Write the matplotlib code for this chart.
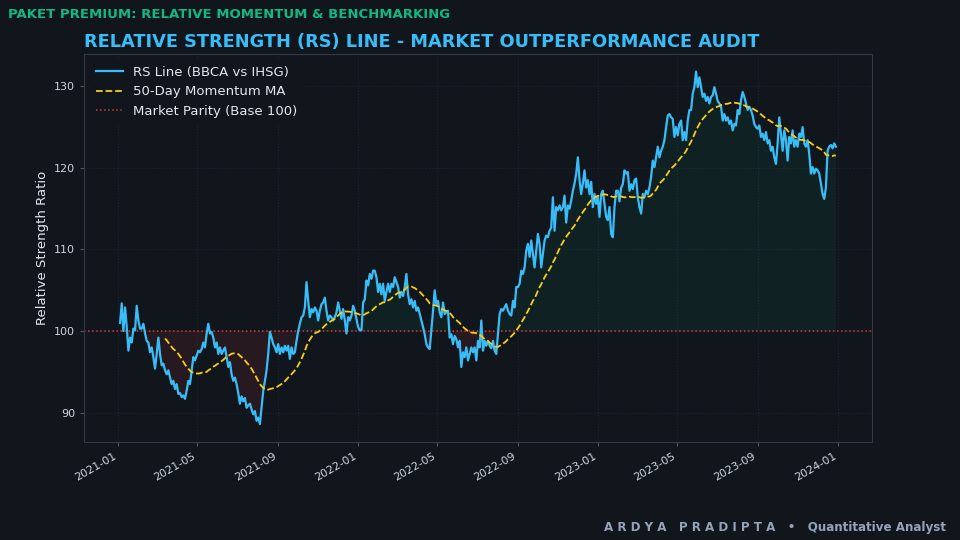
import matplotlib
matplotlib.use("Agg")
import matplotlib.pyplot as plt
import matplotlib.dates as mdates
import numpy as np
import pandas as pd

# ---- data (RS line, evenly spaced samples) ----
start_date = "2021-01-04"
end_date = "2023-12-29"

rs_seg_a = [101.0, 103.4, 100.0, 102.9, 100.5, 97.6, 99.2, 98.6, 100.3, 100.1,
            103.1, 101.3, 100.3, 100.3, 100.9, 99.7, 98.8, 98.6, 97.4, 98.0,
            96.8, 95.4, 97.2, 99.2, 97.2, 95.8, 96.0, 95.2, 94.7, 95.2,
            94.3, 93.5, 93.9, 92.9, 93.5, 92.3, 92.4, 91.9, 92.1, 91.7,
            92.7, 93.9, 93.5, 95.2, 96.8, 96.4, 97.0, 97.6, 97.4, 97.8,
            98.6, 98.0, 99.7, 100.9, 99.7, 99.9, 99.2, 98.0, 98.6, 97.2,
            98.0, 97.2, 97.6, 98.0, 96.8, 95.6, 96.2, 94.7, 93.9, 94.3,
            93.5, 92.4, 91.1]
rs_seg_b = [92.0, 91.4, 91.8, 90.6, 90.9, 91.1, 90.4, 89.8, 90.2, 89.0,
            89.4, 88.6, 90.6, 92.7, 93.9, 95.2, 97.2, 99.9, 99.2, 98.4,
            98.0, 97.4, 98.4, 97.2, 98.0, 97.4, 98.2, 97.6, 98.2, 96.6,
            98.0, 97.2, 97.4, 98.8, 100.0, 100.9, 101.7, 101.9, 102.9, 106.0,
            103.7, 101.7, 102.7, 102.3, 102.9, 102.5, 101.3, 102.5, 103.3, 103.5,
            104.1, 102.5, 101.3, 101.9, 101.7, 101.3, 101.7, 102.3, 103.5, 102.5,
            101.5, 102.7, 101.3, 99.7, 101.7, 101.3, 101.9, 103.1, 102.5, 101.5,
            100.5, 100.1, 100.1, 103.5, 103.9]
rs_seg_c = [106.2, 105.6, 107.0, 106.4, 107.4, 107.4, 106.6, 104.8, 105.8, 104.5,
            105.8, 103.7, 104.8, 105.8, 104.8, 105.8, 105.4, 106.6, 106.0, 105.4,
            104.1, 104.8, 104.3, 105.4, 107.0, 104.5, 103.3, 103.9, 102.9, 103.7,
            102.5, 102.9, 102.1, 101.3, 100.5, 99.6, 98.4, 98.0, 97.8, 100.1,
            102.5, 105.0, 103.3, 103.7, 102.3, 101.7, 103.5, 102.1, 102.3, 102.5,
            99.2, 99.6, 98.4, 99.4, 99.0, 98.0, 98.8, 95.6, 97.4, 96.8,
            98.0, 96.4, 97.2, 98.0, 97.4, 98.0, 96.4, 98.8, 98.0, 101.3,
            97.6, 98.8, 98.2, 98.8, 98.2]
rs_seg_d = [97.9, 98.8, 97.6, 97.2, 99.7, 102.1, 102.7, 102.5, 102.9, 103.3,
            102.5, 102.1, 101.9, 103.7, 102.9, 105.4, 105.4, 105.8, 107.4, 107.0,
            107.8, 109.9, 110.7, 109.1, 111.1, 109.5, 107.8, 109.9, 111.9, 110.7,
            107.8, 109.5, 111.1, 111.7, 111.5, 112.3, 112.7, 116.4, 112.3, 115.2,
            114.8, 115.4, 114.8, 115.2, 116.6, 113.3, 115.4, 115.0, 116.0, 117.2,
            118.1, 119.3, 121.3, 118.5, 116.8, 118.1, 119.7, 117.6, 118.5, 116.8,
            118.3, 115.2, 116.8, 115.6, 116.4, 114.0, 116.8, 117.2, 115.6, 114.0,
            113.6, 115.2, 111.9, 111.5, 115.2, 117.2]
rs_seg_e = [117.2, 115.9, 117.6, 118.0, 119.7, 119.3, 119.5, 117.2, 118.0, 117.4,
            118.5, 118.7, 116.4, 115.2, 114.4, 116.8, 116.4, 117.2, 116.8, 117.6,
            118.9, 120.9, 120.1, 121.3, 122.6, 121.3, 122.1, 122.6, 123.4]
rs_seg_f = [125.0, 126.4, 126.6, 126.2, 126.0, 123.8, 125.0, 124.0, 125.4, 125.8,
            123.4, 124.4, 123.4, 125.8, 127.1, 127.1, 129.1, 129.9, 131.8, 129.9,
            131.1, 129.9, 128.7, 129.1, 128.2, 128.7, 127.9, 128.7, 128.9, 129.9,
            129.1, 128.2, 127.9, 127.5, 125.8, 126.6, 125.8, 126.2, 125.4, 125.8,
            124.6, 125.4, 125.2, 127.1, 126.6, 128.3, 129.3, 128.7, 127.9, 127.1,
            127.5, 127.1, 126.4, 125.4, 125.0, 124.8, 125.2, 123.8, 124.2, 123.4,
            124.4, 123.0, 123.4, 122.1, 122.6, 121.3, 120.5, 123.0, 126.2, 124.2,
            122.1, 124.6, 123.4, 120.9, 123.8, 123.0, 124.6, 122.6, 123.4, 122.6,
            124.2, 123.8, 125.0, 123.0, 122.6, 123.4, 121.7, 119.3, 120.1, 119.3,
            119.9, 119.7, 119.3, 118.1, 116.8, 116.2, 117.6, 122.1, 122.6, 122.8,
            122.4, 123.0, 122.6]

base_level = 100
ma_window = 28  # samples ~ 50 trading days

series_labels = ["RS Line (BBCA vs IHSG)", "50-Day Momentum MA", "Market Parity (Base 100)"]

rs_values = np.array(rs_seg_a + rs_seg_b + rs_seg_c + rs_seg_d + rs_seg_e + rs_seg_f)
dates = pd.date_range(start_date, end_date, periods=len(rs_values))
rs = pd.Series(rs_values, index=dates)
ma = rs.rolling(ma_window, min_periods=ma_window).mean()

# ---- style ----
BG = "#11151c"
plt.rcParams["font.family"] = ["DejaVu Sans"]

fig = plt.figure(figsize=(9.6, 5.4), dpi=100, facecolor=BG)
ax = fig.add_axes([0.0878, 0.182, 0.8202, 0.718])
ax.set_facecolor(BG)

ax.fill_between(dates, rs.values, base_level, where=rs.values >= base_level,
                interpolate=True, color="#10b981", alpha=0.08, linewidth=0)
ax.fill_between(dates, rs.values, base_level, where=rs.values < base_level,
                interpolate=True, color="#ef4444", alpha=0.10, linewidth=0)

ax.plot(dates, rs.values, color="#38bdf8", lw=1.6, label=series_labels[0], zorder=3)
ax.plot(dates, ma.values, color="#facc15", lw=1.3, ls="--", label=series_labels[1], zorder=4)
ax.axhline(base_level, color="#ef4444", lw=1.1, ls=":", alpha=0.85, label=series_labels[2], zorder=2)

ax.xaxis.set_major_locator(mdates.MonthLocator(bymonth=[1, 5, 9]))
ax.xaxis.set_major_formatter(mdates.DateFormatter("%Y-%m"))
ax.yaxis.set_major_locator(matplotlib.ticker.MultipleLocator(10))

for lbl in ax.get_xticklabels():
    lbl.set_rotation(30)
    lbl.set_ha("right")
ax.tick_params(colors="#cbd5e1", labelsize=8, length=3, color="#4b5563")
ax.grid(True, color="#1f2937", ls=":", lw=0.8, alpha=0.8)
ax.set_axisbelow(True)
for sp in ax.spines.values():
    sp.set_color("#333a47")
    sp.set_linewidth(0.8)

ax.set_ylabel("Relative Strength Ratio", color="#e2e8f0", fontsize=9.5)

ax.set_title("RELATIVE STRENGTH (RS) LINE - MARKET OUTPERFORMANCE AUDIT",
             loc="left", color="#38bdf8", fontsize=12.75, fontweight="bold", pad=5)

leg = ax.legend(loc="upper left", fontsize=9.5, facecolor=BG, edgecolor=BG,
                framealpha=0.9, labelcolor="#e2e8f0")

fig.text(0.008, 0.986, "PAKET PREMIUM: RELATIVE MOMENTUM & BENCHMARKING",
         color="#10b981", fontsize=9.5, fontweight="bold", ha="left", va="top")
fig.text(0.985, 0.012, "A R D Y A   P R A D I P T A   \u2022   Quantitative Analyst",
         color="#94a3b8", fontsize=8.6, fontweight="bold", ha="right", va="bottom")

fig.savefig("out.png", dpi=100, facecolor=BG)
